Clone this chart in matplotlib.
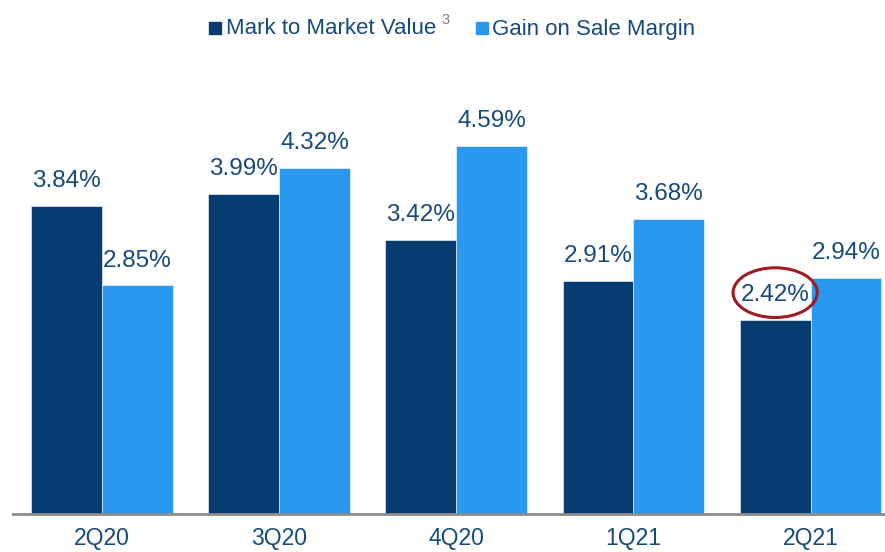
import numpy as np
import matplotlib.pyplot as plt
from matplotlib.patches import Ellipse, Rectangle

plt.rcParams["font.family"] = ["Liberation Sans", "DejaVu Sans"]

# Dados do gráfico
quarters = ["2Q20", "3Q20", "4Q20", "1Q21", "2Q21"]
mark_to_market = [3.84, 3.99, 3.42, 2.91, 2.42]
gain_on_sale = [2.85, 4.32, 4.59, 3.68, 2.94]

DARK = "#073C72"
LIGHT = "#2A98EE"
TXT = "#174A7C"

fig = plt.figure(figsize=(8.85, 5.52), dpi=100)
ax = fig.add_axes([13 / 885, 1 - 514 / 552, 1 - 13 / 885, 454 / 552])

x = np.arange(len(quarters))
w = 0.4

b1 = ax.bar(x - w / 2, mark_to_market, w, color=DARK, edgecolor="white", linewidth=0.4)
b2 = ax.bar(x + w / 2, gain_on_sale, w, color=LIGHT, edgecolor="white", linewidth=0.4)

for bars, vals in [(b1, mark_to_market), (b2, gain_on_sale)]:
    for rect, v in zip(bars, vals):
        ax.annotate(f"{v:.2f}%", (rect.get_x() + rect.get_width() / 2, v),
                    xytext=(0, 10), textcoords="offset points",
                    ha="center", va="bottom", fontsize=17.5, color=TXT)

# Destaque do último valor
last = len(quarters) - 1
ax.add_patch(Ellipse((x[last] - w / 2, mark_to_market[last] + 0.34), 0.475, 0.62,
                     fill=False, edgecolor="#9E1B22", linewidth=2.2))

ax.set_xlim(-0.502, 4.42)
ax.set_ylim(0, 454 / 80.2)
ax.set_xticks(x)
ax.set_xticklabels(quarters, fontsize=16.5, color=TXT)
ax.tick_params(axis="x", length=0, pad=9)
ax.set_yticks([])
for s in ["top", "right", "left"]:
    ax.spines[s].set_visible(False)
ax.spines["bottom"].set_color("#8C8C8C")
ax.spines["bottom"].set_linewidth(2)

# Legenda feita à mão (com o sobrescrito em cinza)
fig.patches.append(Rectangle((209 / 885, 1 - 34 / 552), 12 / 885, 12 / 552,
                             transform=fig.transFigure, color=DARK))
fig.text(226 / 885, 1 - 29 / 552, "Mark to Market Value", fontsize=16,
         color=TXT, va="center", ha="left")
fig.text(441 / 885, 1 - 20 / 552, "3", fontsize=10.5, color="#7F7F7F",
         va="center", ha="left")
fig.patches.append(Rectangle((476 / 885, 1 - 34 / 552), 12 / 885, 12 / 552,
                             transform=fig.transFigure, color=LIGHT))
fig.text(492 / 885, 1 - 29 / 552, "Gain on Sale Margin", fontsize=16,
         color=TXT, va="center", ha="left")

plt.savefig("out.png", dpi=100, facecolor="white")
plt.close()
